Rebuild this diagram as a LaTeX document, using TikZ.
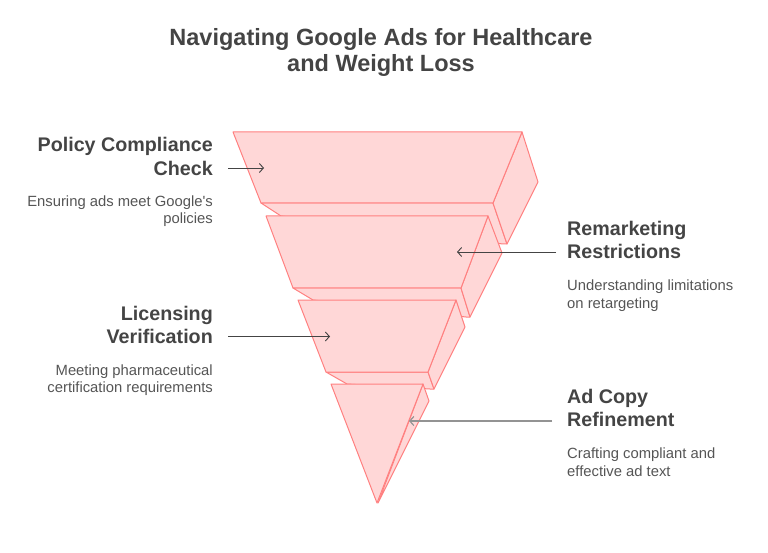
\documentclass[tikz,border=0pt]{standalone}
\usepackage{fontspec}
\setmainfont{Liberation Sans}
\usepackage{xcolor}
\usetikzlibrary{arrows.meta}
\definecolor{funfill}{HTML}{FFD7D7}
\definecolor{funline}{HTML}{FF8080}
\definecolor{headgray}{HTML}{444444}
\definecolor{descgray}{HTML}{555555}

\begin{document}
\begin{tikzpicture}[x=1pt, y=-1pt,
  face/.style={fill=funfill, draw=funline, line width=1pt, line join=round},
  pointer/.style={draw=headgray, line width=0.9pt, -{Straight Barb[length=4pt,width=9pt]}},
  heading/.style={font=\fontsize{19.7}{23.5}\selectfont\bfseries, text=headgray, inner sep=0pt},
  blurb/.style={font=\fontsize{14.8}{17.5}\selectfont, text=descgray, inner sep=0pt}]
\useasboundingbox (0,0) rectangle (768,553);

% title
\node[font=\fontsize{23.5}{26}\selectfont\bfseries, text=headgray, align=center, anchor=base, inner sep=0pt] (title) at (381,72) {Navigating Google Ads for Healthcare\\and Weight Loss};

% funnel, top segment
\draw[face] (261,203) -- (493,203) -- (507,244) -- (503,244) -- (281,216) -- cycle;
\draw[face] (522,132) -- (538,182) -- (507,244) -- (493,203) -- cycle;
\draw[face] (233,132) -- (522,132) -- (493,203) -- (261,203) -- cycle;

% second segment
\draw[face] (293,288) -- (461,288) -- (470,317) -- (466,317) -- (313,300) -- cycle;
\draw[face] (488,216) -- (502,253) -- (470,317) -- (461,288) -- cycle;
\draw[face] (266,216) -- (488,216) -- (461,288) -- (293,288) -- cycle;

% third segment
\draw[face] (326,372) -- (428,372) -- (434,389) -- (430,389) -- (347,384) -- cycle;
\draw[face] (456,300) -- (465,327) -- (434,389) -- (428,372) -- cycle;
\draw[face] (298,300) -- (456,300) -- (428,372) -- (326,372) -- cycle;

% bottom tip
\draw[face] (423,384) -- (429,401) -- (378,503) -- cycle;
\draw[face] (331,384) -- (423,384) -- (377,503) -- cycle;

% labels on the left
\node[heading, anchor=base east, align=right] (policy) at (213,175.5) {Policy Compliance\\Check};
\node[blurb, anchor=base east, align=right] (policy-txt) at (213,224) {Ensuring ads meet Google\textquotesingle s\\policies};
\node[heading, anchor=base east, align=right] (license) at (213,343.5) {Licensing\\Verification};
\node[blurb, anchor=base east, align=right] (license-txt) at (213,392.5) {Meeting pharmaceutical\\certification requirements};

% labels on the right
\node[heading, anchor=base west, align=left] (remark) at (567,259) {Remarketing\\Restrictions};
\node[blurb, anchor=base west, align=left] (remark-txt) at (567,308.5) {Understanding limitations\\on retargeting};
\node[heading, anchor=base west, align=left] (adcopy) at (567,426.5) {Ad Copy\\Refinement};
\node[blurb, anchor=base west, align=left] (adcopy-txt) at (567,476) {Crafting compliant and\\effective ad text};

% pointers into the funnel
\coordinate (policy-from) at (228,168);
\coordinate (policy-to) at (264,168);
\coordinate (remark-from) at (556,252);
\coordinate (remark-to) at (457,252);
\coordinate (license-from) at (228,336.5);
\coordinate (license-to) at (330,336.5);
\coordinate (adcopy-from) at (552,421);
\coordinate (adcopy-to) at (409,421);
\draw[pointer] (policy-from) -- (policy-to);
\draw[pointer] (remark-from) -- (remark-to);
\draw[pointer] (license-from) -- (license-to);
\draw[pointer, draw=gray!85, line width=1.2pt] (adcopy-from) -- (adcopy-to);
\end{tikzpicture}
\end{document}
